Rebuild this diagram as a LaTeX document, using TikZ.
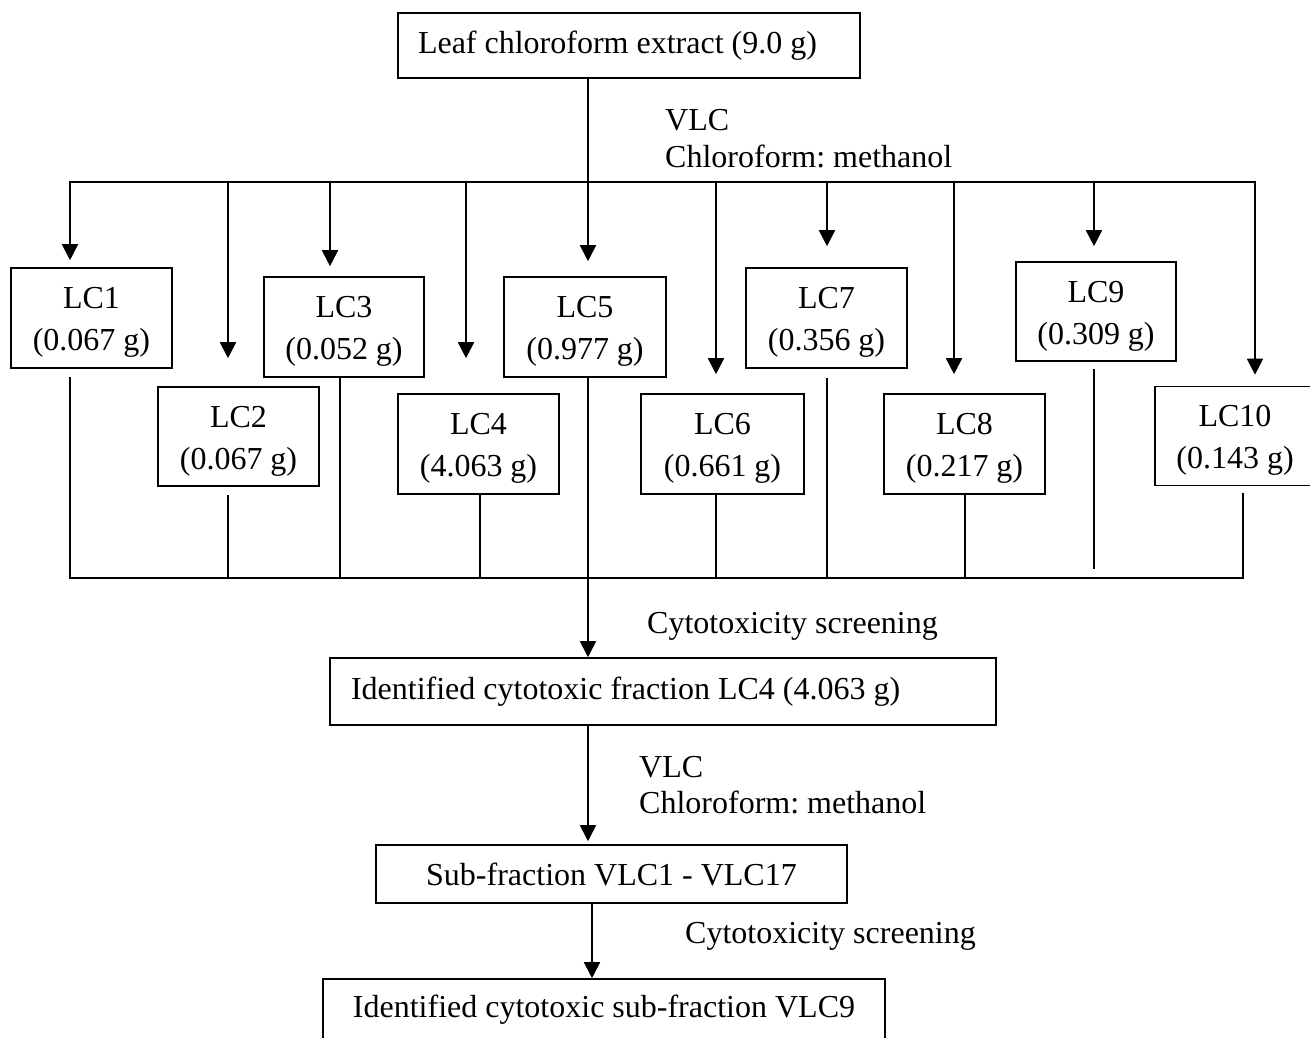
\documentclass[tikz,border=0pt]{standalone}
\usepackage{fontspec}
\setmainfont{Liberation Serif}
\usetikzlibrary{arrows.meta}
\frenchspacing
\newcommand\lcup{\rule{0pt}{30pt}}
\begin{document}
\begin{tikzpicture}[x=1pt,y=-1pt,
  font=\fontsize{32}{42}\selectfont\frenchspacing,
  box/.style={draw, line width=1.6pt, inner sep=0pt, align=center},
  ln/.style={line width=1.8pt},
  arr/.style={line width=1.8pt, -{Triangle[length=16pt,width=16pt]}},
  lbl/.style={inner sep=0pt, anchor=base west}]
\path[use as bounding box] (0,0) rectangle (1310,1037);

% boxes
\node[box, minimum width=462pt, minimum height=65pt] (top) at (629,45.5) {\makebox[422pt][l]{Leaf chloroform extract (9.0 g)}};
\node[box, minimum width=161pt, minimum height=100pt] (LC1) at (91.5,318) {\lcup LC1\\(0.067 g)};
\node[box, minimum width=161pt, minimum height=99pt] (LC2) at (238.5,436.5) {\lcup LC2\\(0.067 g)};
\node[box, minimum width=160pt, minimum height=100pt] (LC3) at (344,327) {\lcup LC3\\(0.052 g)};
\node[box, minimum width=161pt, minimum height=100pt] (LC4) at (478.5,444) {\lcup LC4\\(4.063 g)};
\node[box, minimum width=162pt, minimum height=100pt] (LC5) at (585,327) {\lcup LC5\\(0.977 g)};
\node[box, minimum width=163pt, minimum height=100pt] (LC6) at (722.5,444) {\lcup LC6\\(0.661 g)};
\node[box, minimum width=161pt, minimum height=100pt] (LC7) at (826.5,318) {\lcup LC7\\(0.356 g)};
\node[box, minimum width=161pt, minimum height=100pt] (LC8) at (964.5,444) {\lcup LC8\\(0.217 g)};
\node[box, minimum width=160pt, minimum height=99pt] (LC9) at (1096,311.5) {\lcup LC9\\(0.309 g)};
\node[box, minimum width=160pt, minimum height=99pt] (LC10) at (1235,436) {\lcup LC10\\(0.143 g)};
\node[box, minimum width=666pt, minimum height=67pt] (frac) at (663,691.5) {\makebox[624pt][l]{Identified cytotoxic fraction LC4 (4.063 g)}};
\node[box, minimum width=471pt, minimum height=58pt] (sub) at (611.5,874) {Sub-fraction VLC1 - VLC17};
\node[box, minimum width=562pt, minimum height=62pt] (fin) at (604,1010) {Identified cytotoxic sub-fraction VLC9};

% labels
\node[lbl] (vlc1) at (665,130) {VLC};
\node[lbl] (cm1) at (665,167) {Chloroform: methanol};
\node[lbl] (cs1) at (647,633) {Cytotoxicity screening};
\node[lbl] (vlc2) at (639,777) {VLC};
\node[lbl] (cm2) at (639,813) {Chloroform: methanol};
\node[lbl] (cs2) at (685,943) {Cytotoxicity screening};

% top bus
\coordinate (t0) at (588,182);
\coordinate (d1) at (70,182);
\coordinate (d2) at (228,182);
\coordinate (d3) at (330,182);
\coordinate (d4) at (466,182);
\coordinate (d5) at (588,182);
\coordinate (d6) at (716,182);
\coordinate (d7) at (827,182);
\coordinate (d8) at (954,182);
\coordinate (d9) at (1094,182);
\coordinate (d10) at (1255,182);
\draw[ln] (top.south -| t0) -- (t0);
\draw[ln, line cap=rect] (d1) -- (d10);
\draw[arr, shorten >=7pt] (d1) -- (d1 |- LC1.north);
\draw[arr, shorten >=28pt] (d2) -- (d2 |- LC2.north);
\draw[arr, shorten >=10pt] (d3) -- (d3 |- LC3.north);
\draw[arr, shorten >=35pt] (d4) -- (d4 |- LC4.north);
\draw[arr, shorten >=15pt] (d5) -- (d5 |- LC5.north);
\draw[arr, shorten >=19pt] (d6) -- (d6 |- LC6.north);
\draw[arr, shorten >=21pt] (d7) -- (d7 |- LC7.north);
\draw[arr, shorten >=19pt] (d8) -- (d8 |- LC8.north);
\draw[arr, shorten >=15pt] (d9) -- (d9 |- LC9.north);
\draw[arr, shorten >=11pt] (d10) -- (d10 |- LC10.north);

% bottom bus
\coordinate (u1) at (70,578);
\coordinate (u2) at (228,578);
\coordinate (u3) at (340,578);
\coordinate (u4) at (480,578);
\coordinate (m) at (588,578);
\coordinate (u6) at (716,578);
\coordinate (u7) at (827,578);
\coordinate (u8) at (965,578);
\coordinate (u9) at (1094,569);
\coordinate (u10) at (1243,578);
\draw[ln, line cap=rect] (u1) -- (u10);
\draw[ln, shorten <=8pt] (u1 |- LC1.south) -- (u1);
\draw[ln, shorten <=8pt] (u2 |- LC2.south) -- (u2);
\draw[ln] (u3 |- LC3.south) -- (u3);
\draw[ln] (u4 |- LC4.south) -- (u4);
\draw[ln] (u6 |- LC6.south) -- (u6);
\draw[ln, shorten <=9pt] (u7 |- LC7.south) -- (u7);
\draw[ln] (u8 |- LC8.south) -- (u8);
\draw[ln, shorten <=7pt] (u9 |- LC9.south) -- (u9);
\draw[ln, shorten <=8pt, line cap=rect] (u10 |- LC10.south) -- (u10);

% main chain
\coordinate (m2) at (592,940);
\draw[arr] (m |- LC5.south) -- (m |- frac.north);
\draw[arr, shorten >=3pt] (m |- frac.south) -- (m |- sub.north);
\draw[arr] (m2 |- sub.south) -- (m2 |- fin.north);
\end{tikzpicture}
\end{document}
